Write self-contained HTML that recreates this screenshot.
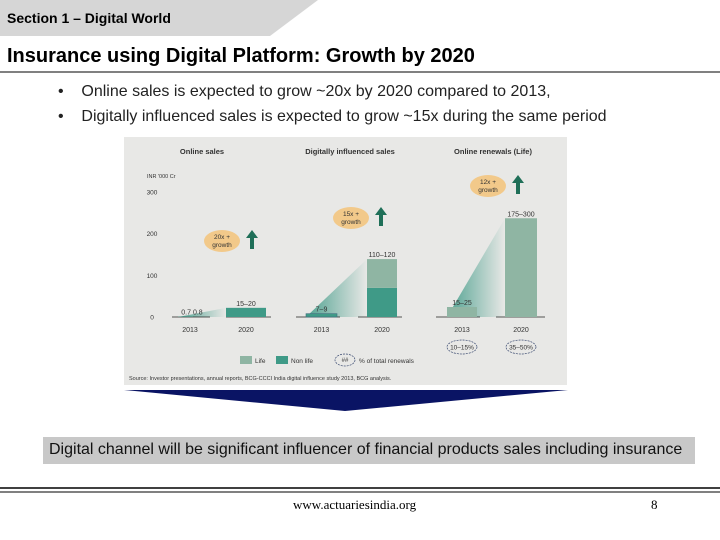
<!DOCTYPE html>
<html><head><meta charset="utf-8"><style>
body{margin:0;width:720px;height:540px;position:relative;background:#fff;font-family:"Liberation Sans",sans-serif;overflow:hidden}
.a{position:absolute}
</style></head><body>
<svg class="a" style="left:0;top:0" width="720" height="540">
<polygon points="0,0 318,0 270,36 0,36" fill="#d6d6d6"/>
<line x1="0" y1="72" x2="720" y2="72" stroke="#000" stroke-width="1"/>
<rect x="124" y="137" width="443" height="248" fill="#e8e8e6"/>
<polygon points="124,390 568,390 345,411" fill="#0a1464"/>
<rect x="43" y="437" width="652" height="27" fill="#c8c8c8"/>
<line x1="0" y1="488" x2="720" y2="488" stroke="#000" stroke-width="1.5"/>
<line x1="0" y1="492" x2="720" y2="492" stroke="#000" stroke-width="1"/>
<g id="chart" font-family="Liberation Sans, sans-serif" font-size="7.5" fill="#333"></g>
</svg>
<div class="a" style="left:7px;top:10px;font-size:14px;font-weight:bold">Section 1 – Digital World</div>
<div class="a" style="left:7px;top:45px;font-size:20px;font-weight:bold">Insurance using Digital Platform: Growth by 2020</div>
<div class="a" style="left:58px;top:79px;font-size:16px;color:#222;line-height:25px">•&nbsp;&nbsp;&nbsp;&nbsp;Online sales is expected to grow ~20x by 2020 compared to 2013,<br>•&nbsp;&nbsp;&nbsp;&nbsp;Digitally influenced sales is expected to grow ~15x during the same period</div>
<div class="a" style="left:49px;top:441px;font-size:16px;color:#111">Digital channel will be significant influencer of financial products sales including insurance</div>
<div class="a" style="left:293px;top:497px;font-size:13px;font-family:'Liberation Serif',serif">www.actuariesindia.org</div>
<div class="a" style="left:651px;top:497px;font-size:13px;font-family:'Liberation Serif',serif">8</div>
<script>
const categories=["Online 2013","Online 2020","Digital 2013","Digital 2020","Renewal 2013","Renewal 2020"];
const lifeValues=[0,0,0,69,24,237];
const nonLifeValues=[0.75,22,8,70,0,0];
const barLabels=["0.7  0.8","15–20","7–9","110–120","15–25","175–300"];
const yearLabels=["2013","2020","2013","2020","2013","2020"];
const yTicks=[0,100,200,300];
const NS="http://www.w3.org/2000/svg";
const g=document.getElementById("chart");
const y0=317,pxPer=125/300;
const ys=v=>y0-v*pxPer;
const barX=[178,226,306,367,447,505],barW=[15,40,31,30,30,32];
function mk(t,a,txt){const e=document.createElementNS(NS,t);for(const k in a)e.setAttribute(k,a[k]);if(txt!=null)e.textContent=txt;g.appendChild(e);return e;}
const defs=mk("defs",{});
defs.innerHTML='<linearGradient id="wg" x1="0" x2="1"><stop offset="0" stop-color="#3f9a87" stop-opacity=".9"/><stop offset="1" stop-color="#3f9a87" stop-opacity="0"/></linearGradient>';
let e=mk("text",{x:202,y:154,"font-weight":"bold","text-anchor":"middle"},"Online sales");

e=mk("text",{x:350,y:154,"font-weight":"bold","text-anchor":"middle"},"Digitally influenced sales");

e=mk("text",{x:493,y:154,"font-weight":"bold","text-anchor":"middle"},"Online renewals (Life)");

mk("text",{x:147,y:178,"font-size":5.5},"INR '000 Cr");
yTicks.forEach(t=>{const tt=mk("text",{x:152,y:ys(t)+2.5,"text-anchor":"middle","font-size":6.5},String(t));
});
for(let i=0;i<6;i+=2){const x1=barX[i],x2=barX[i+1],top=ys(lifeValues[i+1]+nonLifeValues[i+1]);
const w=mk("polygon",{points:`${x1},${y0} ${x2},${top} ${x2},${y0}`,fill:"url(#wg)"});
}
[[172,210],[226,271],[296,340],[358,402],[436,480],[496,545]].forEach(b=>mk("line",{x1:b[0],x2:b[1],y1:y0,y2:y0,stroke:"#222","stroke-width":0.8}));
categories.forEach((c,i)=>{
 const nl=nonLifeValues[i],lf=lifeValues[i];
 const r1=mk("rect",{x:barX[i],y:ys(nl),width:barW[i],height:nl*pxPer,fill:"#3f9a87",stroke:i==2?"#3f6f7f":"none","stroke-width":0.6});
 
 const r2=mk("rect",{x:barX[i],y:ys(nl+lf),width:barW[i],height:lf*pxPer,fill:"#8fb5a3"});
 
 const lx=i==0?192:barX[i]+barW[i]/2;
 const l=mk("text",{x:lx,y:ys(nl+lf)-2,"text-anchor":"middle","font-size":7},barLabels[i]);
 
 const yl=mk("text",{x:i==0?190:barX[i]+barW[i]/2,y:332,"text-anchor":"middle","font-size":7},yearLabels[i]);
 
});
[[222,241,"20x +"],[351,218,"15x +"],[488,186,"12x +"]].forEach(b=>{
 mk("ellipse",{cx:b[0],cy:b[1],rx:18,ry:11,fill:"#f2c98a"});
 mk("text",{x:b[0],y:b[1]-2,"text-anchor":"middle","font-size":6.5},b[2]);
 mk("text",{x:b[0],y:b[1]+6,"text-anchor":"middle","font-size":6.5},"growth");
 const ax=b[0]+30;
 mk("polygon",{points:`${ax-2},${b[1]+8} ${ax+2},${b[1]+8} ${ax+2},${b[1]-3} ${ax+6},${b[1]-3} ${ax},${b[1]-11} ${ax-6},${b[1]-3} ${ax-2},${b[1]-3}`,fill:"#1f6f58"});
});
[[462,347,"10–15%"],[521,347,"35–50%"]].forEach(o=>{mk("ellipse",{cx:o[0],cy:o[1],rx:15,ry:7,fill:"none",stroke:"#3a4a70","stroke-dasharray":"2,1","stroke-width":0.7});mk("text",{x:o[0],y:o[1]+2.5,"text-anchor":"middle","font-size":6.5},o[2]);});
mk("rect",{x:240,y:356,width:12,height:8,fill:"#8fb5a3"});mk("text",{x:255,y:363,"font-size":6.5},"Life");
mk("rect",{x:276,y:356,width:12,height:8,fill:"#3f9a87"});mk("text",{x:291,y:363,"font-size":6.5},"Non life");
mk("ellipse",{cx:345,cy:360,rx:10,ry:6,fill:"none",stroke:"#3a4a70","stroke-dasharray":"2,1","stroke-width":0.7});
mk("text",{x:345,y:362,"text-anchor":"middle","font-size":6},"##");
mk("text",{x:359,y:363,"font-size":6.5},"% of total renewals");
mk("text",{x:129,y:380,"font-size":5.5},"Source: Investor presentations, annual reports, BCG-CCCI India digital influence study 2013, BCG analysis.");
</script>
</body></html>
